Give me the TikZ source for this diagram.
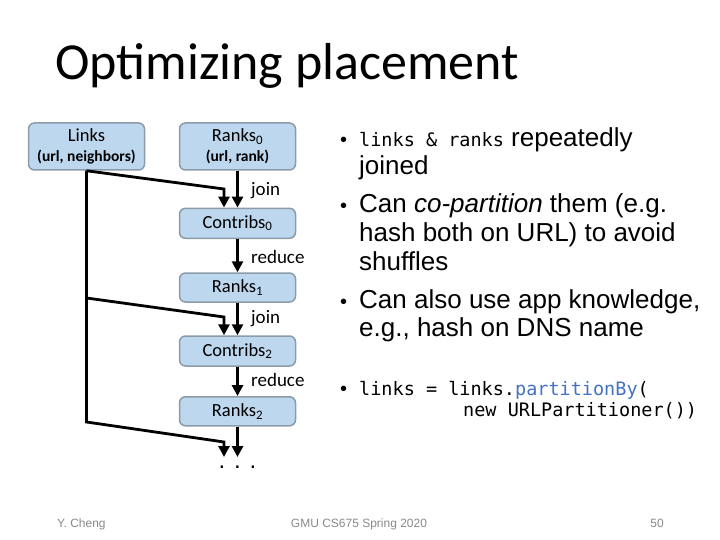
\documentclass[tikz,border=0pt]{standalone}
\usepackage{fontspec}
\setmainfont{Liberation Sans}
\newfontfamily\calfont{Carlito}
\newfontfamily\codefont{DejaVu Sans Mono}
\usetikzlibrary{arrows.meta}
\definecolor{boxfill}{RGB}{189,215,238}
\definecolor{boxline}{RGB}{140,155,170}
\definecolor{codeblue}{RGB}{68,114,196}
\definecolor{footgray}{RGB}{137,137,137}
\newcommand{\cde}[1]{{\codefont\fontsize{18.5}{29}\selectfont #1}}
\begin{document}
\begin{tikzpicture}[x=1pt,y=-1pt,
  box/.style={draw=boxline, line width=1.5pt, fill=boxfill, rounded corners=6pt,
    minimum width=116pt, inner sep=0pt, align=center,
    font=\calfont\fontsize{18.5}{18}\selectfont},
  boxtxt/.style={anchor=base, inner sep=0pt, font=\calfont\fontsize{18.5}{18}\selectfont},
  subtxt/.style={anchor=base, inner sep=0pt, font=\calfont\bfseries\fontsize{15.5}{18}\selectfont},
  arr/.style={line width=2.8pt, -{Triangle[length=11pt,width=11pt]}},
  lbl/.style={anchor=base west, inner sep=0pt, font=\calfont\fontsize{19}{19}\selectfont},
  body/.style={anchor=base west, inner sep=0pt, font=\fontsize{26}{29}\selectfont},
  bul/.style={anchor=base west, inner sep=0pt, font=\fontsize{20}{20}\selectfont},
  foot/.style={inner sep=0pt, text=footgray, font=\fontsize{12}{12}\selectfont}]
\useasboundingbox (0,0) rectangle (720,540);

\node[anchor=base west, inner sep=0pt, font=\calfont\fontsize{52}{52}\selectfont] (title) at (55,80) {Optimizing placement};

% boxes
\node[box, minimum height=47pt] (links) at (86.5,146.5) {};
\node[boxtxt] (linksA) at (86.5,142) {Links};
\node[subtxt] (linksB) at (86.5,162) {(url, neighbors)};
\node[box, minimum height=47pt] (r0) at (237.5,146.5) {};
\node[boxtxt] (r0A) at (237.5,142) {Ranks\textsubscript{0}};
\node[subtxt] (r0B) at (237.5,162) {(url, rank)};
\node[box, minimum height=30pt] (c0) at (237.5,223.3) {Contribs\textsubscript{0}};
\node[box, minimum height=29pt] (r1) at (237.5,287.5) {Ranks\textsubscript{1}};
\node[box, minimum height=30pt] (c2) at (237.5,351) {Contribs\textsubscript{2}};
\node[box, minimum height=29pt] (r2) at (237.5,411.3) {Ranks\textsubscript{2}};
\node[anchor=base, inner sep=0pt, font=\fontsize{24}{24}\selectfont] (dots) at (237.5,468) {. . .};

% connectors
\coordinate (b1) at (224,189);
\coordinate (t1) at (86.5,298);
\coordinate (b2) at (224,317);
\coordinate (t2) at (86.5,422);
\coordinate (b3) at (224,442);
\coordinate (e1) at (224,457);
\coordinate (e2) at (237.5,457);

\draw[arr] (links.south) -- (b1) -- (b1 |- c0.north);
\draw[arr] (links.south) -- (t2) -- (b3) -- (e1);
\draw[arr] (t1) -- (b2) -- (b2 |- c2.north);
\draw[arr] (r0.south) -- (c0.north);
\draw[arr] (c0.south) -- (r1.north);
\draw[arr] (r1.south) -- (c2.north);
\draw[arr] (c2.south) -- (r2.north);
\draw[arr] (r2.south) -- (e2);

\node[lbl] (lj0) at (251,196) {join};
\node[lbl] (lr0) at (251,263) {reduce};
\node[lbl] (lj1) at (251,323) {join};
\node[lbl] (lr1) at (251,386) {reduce};

% bullets
\node[bul] (u1) at (340,147) {•};
\node[body] (l1) at (359,147) {\cde{links \& ranks} repeatedly};
\node[body] (l2) at (359,175) {joined};
\node[bul] (u2) at (340,212) {•};
\node[body] (l3) at (359,212) {Can \textit{co-partition} them (e.g.};
\node[body] (l4) at (359,241) {hash both on URL) to avoid};
\node[body] (l5) at (359,270) {shuffles};
\node[bul] (u3) at (340,308) {•};
\node[body] (l6) at (359,308) {Can also use app knowledge,};
\node[body] (l7) at (359,336) {e.g., hash on DNS name};
\node[bul] (u4) at (340,395) {•};
\node[body] (k1) at (359,395) {\cde{links = links.{\color{codeblue}partitionBy}(}};
\node[body] (k2) at (463,416) {\cde{new URLPartitioner())}};

% footer
\node[foot, anchor=base west] (f1) at (57,527) {Y. Cheng};
\node[foot, anchor=base] (f2) at (359,527) {GMU CS675 Spring 2020};
\node[foot, anchor=base east] (f3) at (664,527) {50};
\end{tikzpicture}
\end{document}
